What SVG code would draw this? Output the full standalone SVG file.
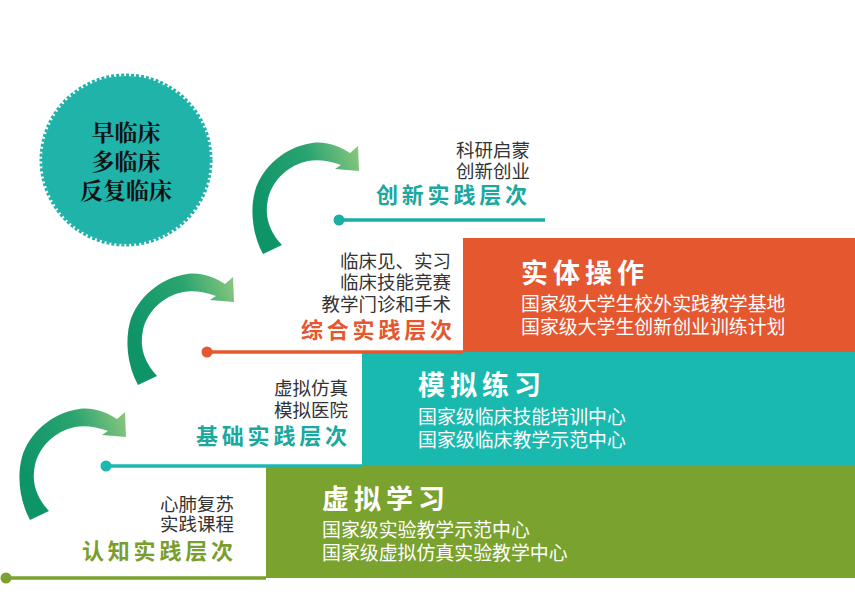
<svg xmlns="http://www.w3.org/2000/svg" width="855" height="594" viewBox="0 0 855 594">
  <defs>
    <linearGradient id="arrowGrad" x1="0" y1="0.4" x2="1" y2="0">
      <stop offset="0" stop-color="#0f9468"/>
      <stop offset="0.55" stop-color="#2aa470"/>
      <stop offset="1" stop-color="#8fc97f"/>
    </linearGradient>
    <path id="curvedArrow" d="M 23,125 C 12,105 10,80 15,62 C 22,38 45,18 72,14 C 88,12 100,18 110,24 L 118,17 L 119,42 L 95,40 L 101,36 C 90,32 78,30 68,32 C 48,36 32,52 28,70 C 24,88 30,103 42,116 Z"/>
  </defs>
  <style>
    text { font-family: "Noto Sans CJK SC", "Noto Sans", sans-serif; }
    .lbl { font-size: 18.5px; fill: #333333; text-anchor: end; }
    .lvl { font-size: 22px; font-weight: 700; letter-spacing: 3.8px; }
    .ttl { font-size: 27px; font-weight: 700; fill: #ffffff; letter-spacing: 5px; }
    .sub { font-size: 18.9px; fill: #ffffff; }
    .circ { font-size: 23px; font-weight: 700; fill: #111111; text-anchor: middle; font-family: "Noto Serif CJK SC", "Noto Sans CJK SC", serif; }
    .arrow { fill: url(#arrowGrad); }
  </style>
  <rect width="855" height="594" fill="#ffffff"/>

  <g id="circle-node">
    <circle cx="126" cy="160" r="84" fill="#1fb3a9"/>
    <circle cx="126" cy="160" r="85" fill="none" stroke="#1fb3a9" stroke-width="3" stroke-dasharray="3 2"/>
    <text class="circ" x="126" y="141">早临床</text>
    <text class="circ" x="126" y="170">多临床</text>
    <text class="circ" x="126" y="199">反复临床</text>
  </g>

  <g id="block-shiti">
    <rect x="463" y="238" width="392" height="114" fill="#e4572f"/>
    <text class="ttl" x="521" y="283">实体操作</text>
    <text class="sub" x="521" y="311">国家级大学生校外实践教学基地</text>
    <text class="sub" x="521" y="334">国家级大学生创新创业训练计划</text>
  </g>

  <g id="block-moni">
    <rect x="362" y="352" width="493" height="114" fill="#1ab9af"/>
    <text class="ttl" x="418" y="395">模拟练习</text>
    <text class="sub" x="418" y="424">国家级临床技能培训中心</text>
    <text class="sub" x="418" y="447">国家级临床教学示范中心</text>
  </g>

  <g id="block-xuni">
    <rect x="266" y="466" width="589" height="112" fill="#7aa22e"/>
    <text class="ttl" x="322" y="509">虚拟学习</text>
    <text class="sub" x="322" y="537">国家级实验教学示范中心</text>
    <text class="sub" x="322" y="560">国家级虚拟仿真实验教学中心</text>
  </g>

  <g id="level-chuangxin">
    <text class="lbl" x="530" y="157">科研启蒙</text>
    <text class="lbl" x="530" y="178">创新创业</text>
    <text class="lvl" x="376" y="203" fill="#1aa89f">创新实践层次</text>
  </g>

  <g id="level-zonghe">
    <text class="lbl" x="451" y="268">临床见、实习</text>
    <text class="lbl" x="451" y="289">临床技能竞赛</text>
    <text class="lbl" x="451" y="311">教学门诊和手术</text>
    <text class="lvl" x="301" y="338" fill="#e4572f">综合实践层次</text>
  </g>

  <g id="level-jichu">
    <text class="lbl" x="348" y="395">虚拟仿真</text>
    <text class="lbl" x="348" y="417">模拟医院</text>
    <text class="lvl" x="196" y="444" fill="#1aa89f">基础实践层次</text>
  </g>

  <g id="level-renzhi">
    <text class="lbl" x="234" y="511">心肺复苏</text>
    <text class="lbl" x="234" y="531">实践课程</text>
    <text class="lvl" x="82" y="559" fill="#7a9e2e">认知实践层次</text>
  </g>

  <g id="connectors">
    <line x1="339" y1="220" x2="545" y2="220" stroke="#1aaea5" stroke-width="3.5"/>
    <circle cx="339" cy="220" r="5.5" fill="#1aaea5"/>
    <line x1="207" y1="352" x2="463" y2="352" stroke="#e4572f" stroke-width="3.5"/>
    <circle cx="207" cy="352" r="5.5" fill="#e4572f"/>
    <line x1="106" y1="466" x2="362" y2="466" stroke="#1ab9af" stroke-width="3.5"/>
    <circle cx="106" cy="466" r="5.5" fill="#1ab9af"/>
    <line x1="6" y1="578" x2="266" y2="578" stroke="#7aa22e" stroke-width="3.5"/>
    <circle cx="6" cy="578" r="5.5" fill="#7aa22e"/>
    <use href="#curvedArrow" class="arrow" transform="translate(7,395)"/>
    <use href="#curvedArrow" class="arrow" transform="translate(115,260)"/>
    <use href="#curvedArrow" class="arrow" transform="translate(240,129)"/>
  </g>
</svg>
